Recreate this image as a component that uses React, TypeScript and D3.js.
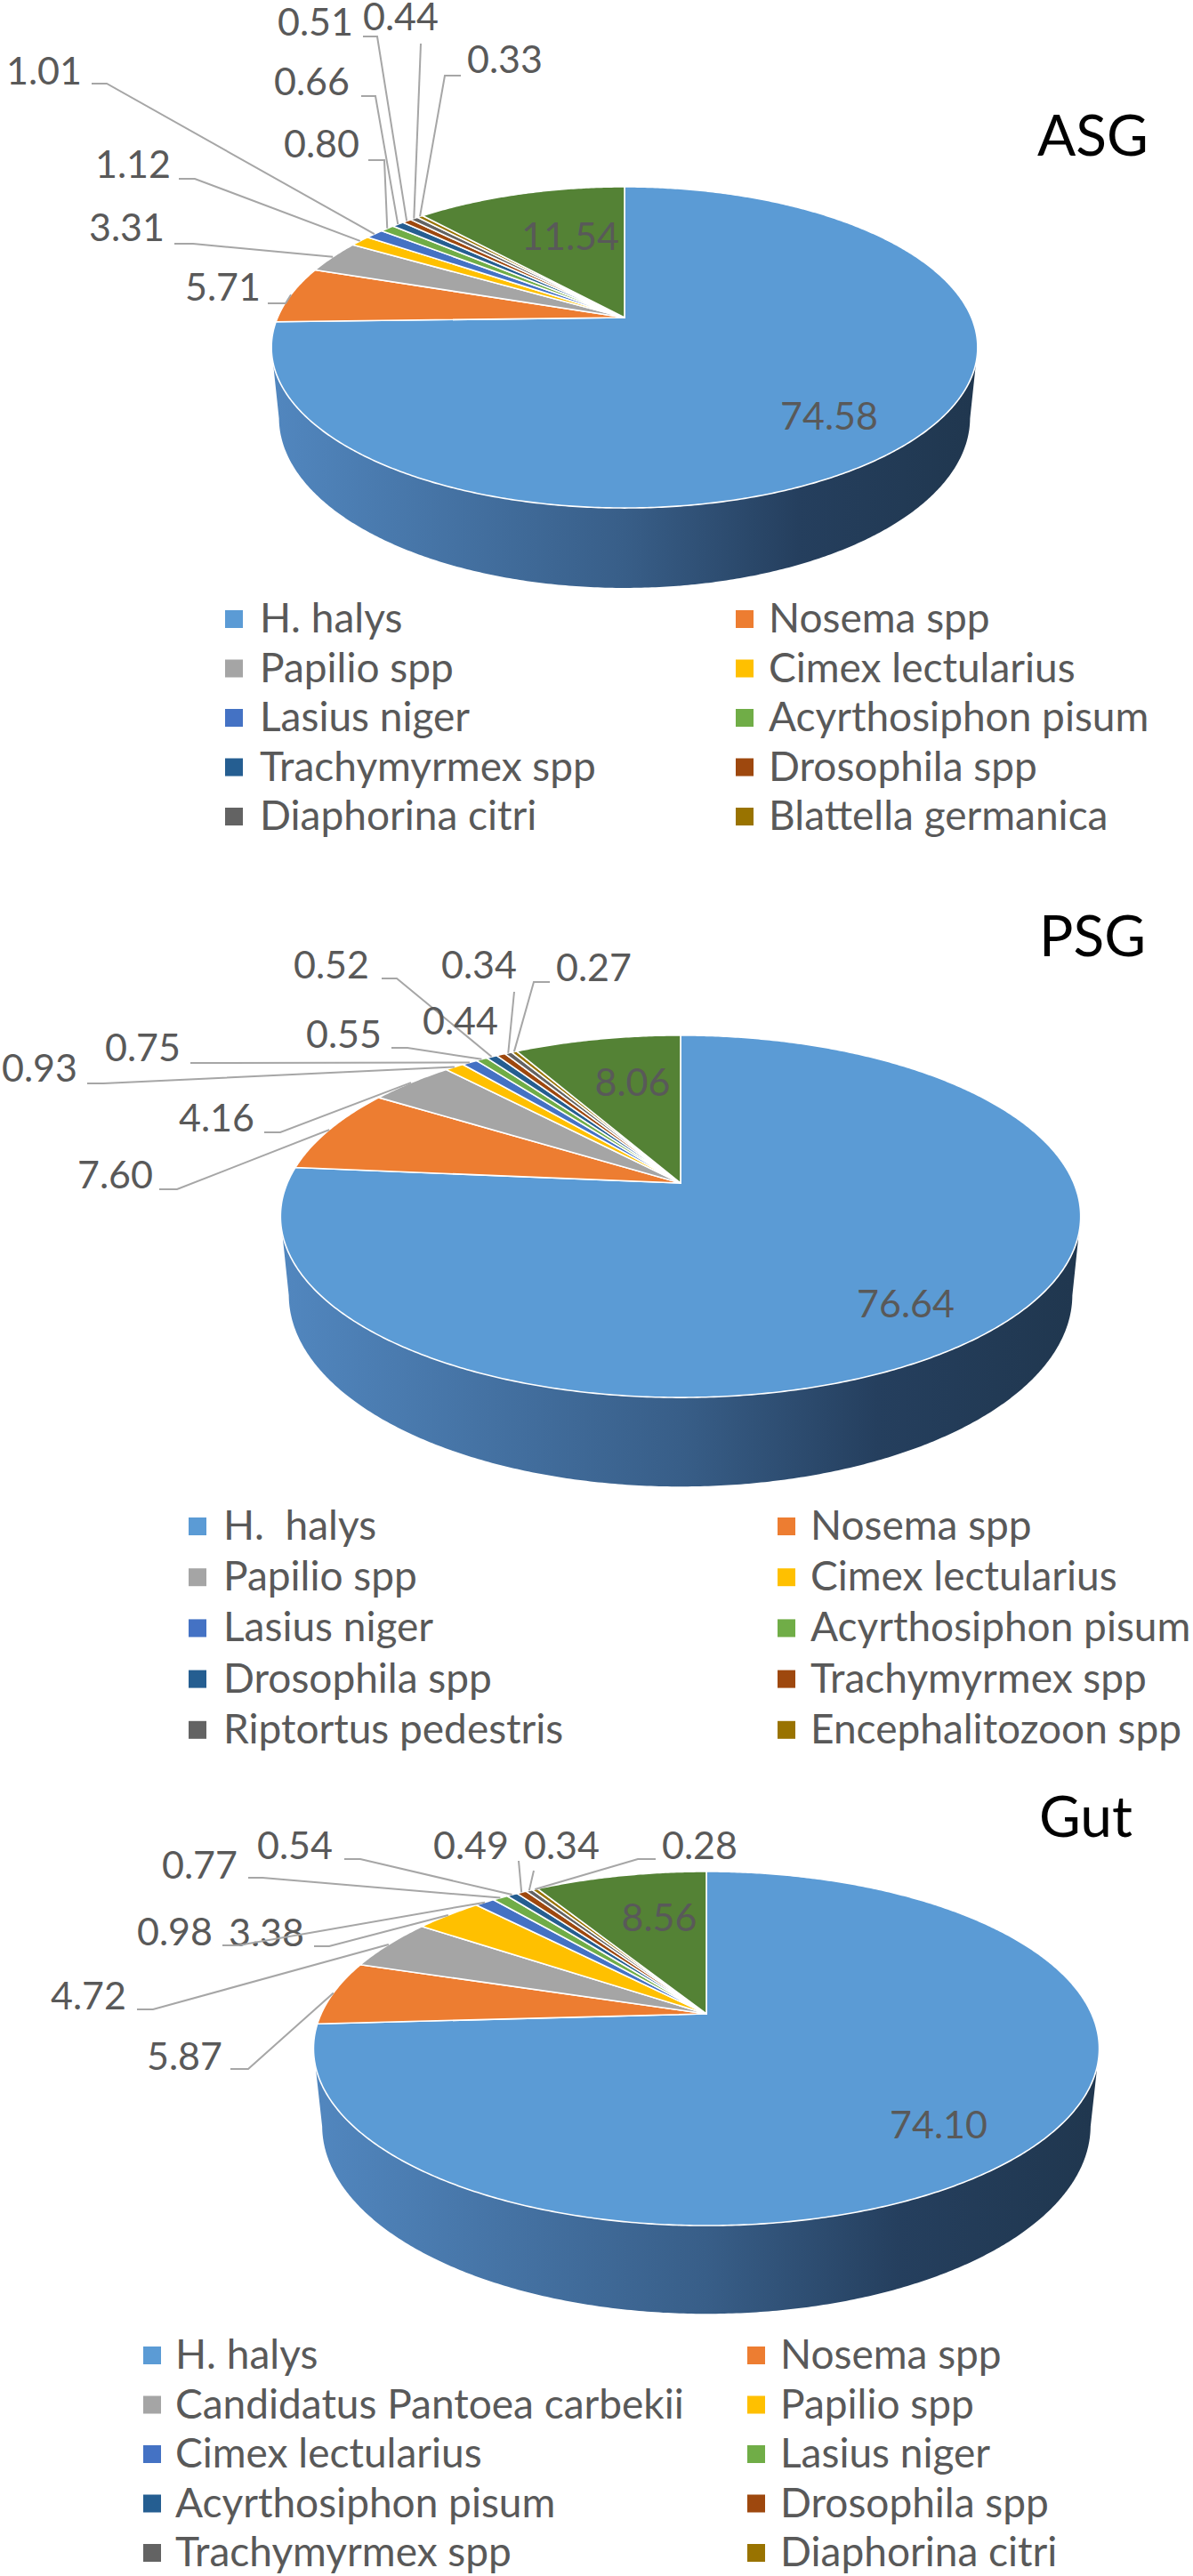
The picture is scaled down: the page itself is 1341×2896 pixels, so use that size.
import React from 'react';
import * as d3 from 'd3';

// Excel "Office" palette, in series order; the 11th slice (unlabelled rest) is dark green
const palette = ['#5B9BD5', '#ED7D31', '#A5A5A5', '#FFC000', '#4472C4', '#70AD47', '#255E91', '#9E480E', '#636363', '#997300', '#548235'];

const asgNames = ['H. halys', 'Nosema spp', 'Papilio spp', 'Cimex lectularius', 'Lasius niger', 'Acyrthosiphon pisum', 'Trachymyrmex spp', 'Drosophila spp', 'Diaphorina citri', 'Blattella germanica'];
const asgValues = [74.58, 5.71, 3.31, 1.12, 1.01, 0.80, 0.66, 0.51, 0.44, 0.33, 11.54];

const psgNames = ['H.  halys', 'Nosema spp', 'Papilio spp', 'Cimex lectularius', 'Lasius niger', 'Acyrthosiphon pisum', 'Drosophila spp', 'Trachymyrmex spp', 'Riptortus pedestris', 'Encephalitozoon spp'];
const psgValues = [76.64, 7.60, 4.16, 0.93, 0.75, 0.55, 0.52, 0.44, 0.34, 0.27, 8.06];

const gutNames = ['H. halys', 'Nosema spp', 'Candidatus Pantoea carbekii', 'Papilio spp', 'Cimex lectularius', 'Lasius niger', 'Acyrthosiphon pisum', 'Drosophila spp', 'Trachymyrmex spp', 'Diaphorina citri'];
const gutValues = [74.10, 5.87, 4.72, 3.38, 0.98, 0.77, 0.54, 0.49, 0.34, 0.28, 8.56];

// where each data label sits (Excel labels were dragged by hand)
// inner: centred text; outer: text left/baseline, leader start and elbow
type LabelPos = { x: number; y: number; inner?: boolean; sx?: number; sy?: number; ex?: number | null };

const asgLabels: LabelPos[] = [
  { x: 932, y: 483, inner: true },
  { x: 208, y: 338, sx: 301, sy: 341, ex: 321 },
  { x: 100, y: 271, sx: 196, sy: 274, ex: 217 },
  { x: 107, y: 200, sx: 201, sy: 201, ex: 219 },
  { x: 7, y: 95, sx: 103, sy: 94, ex: 120 },
  { x: 319, y: 177, sx: 414, sy: 180, ex: 432 },
  { x: 308, y: 107, sx: 406, sy: 108, ex: 422 },
  { x: 312, y: 40, sx: 408, sy: 41, ex: 424 },
  { x: 408, y: 34, sx: 473, sy: 49, ex: null },
  { x: 525, y: 82, sx: 518, sy: 85, ex: 500 },
  { x: 641, y: 281, inner: true },
];

const psgLabels: LabelPos[] = [
  { x: 1018, y: 1481, inner: true },
  { x: 87, y: 1336, sx: 179, sy: 1337, ex: 199 },
  { x: 201, y: 1272, sx: 297, sy: 1273, ex: 315 },
  { x: 2, y: 1216, sx: 98, sy: 1218, ex: 116 },
  { x: 118, y: 1193, sx: 214, sy: 1195, ex: 232 },
  { x: 344, y: 1178, sx: 440, sy: 1178, ex: 458 },
  { x: 330, y: 1100, sx: 429, sy: 1100, ex: 446 },
  { x: 475, y: 1163 },
  { x: 496, y: 1100, sx: 578, sy: 1115, ex: null },
  { x: 625, y: 1103, sx: 618, sy: 1104, ex: 600 },
  { x: 711, y: 1232, inner: true },
];

const gutLabels: LabelPos[] = [
  { x: 1055, y: 2404, inner: true },
  { x: 165, y: 2327, sx: 259, sy: 2326, ex: 279 },
  { x: 57, y: 2259, sx: 154, sy: 2259, ex: 172 },
  { x: 257, y: 2188, sx: 353, sy: 2188, ex: 370 },
  { x: 154, y: 2187, sx: 250, sy: 2187, ex: 268 },
  { x: 182, y: 2112, sx: 279, sy: 2111, ex: 295 },
  { x: 289, y: 2090, sx: 387, sy: 2090, ex: 405 },
  { x: 487, y: 2090, sx: 583, sy: 2092, ex: null },
  { x: 589, y: 2090, sx: 600, sy: 2103, ex: null },
  { x: 744, y: 2090, sx: 737, sy: 2090, ex: 717 },
  { x: 741, y: 2171, inner: true },
];

type Chart = {
  id: string;
  title: string;
  names: string[];
  values: number[];
  labels: LabelPos[];
  cx: number; cy: number; R: number; tilt: number; D: number; h: number;
  titleX: number; titleY: number;
  legY: number; legDy: number; sqL: number; txtL: number; sqR: number; txtR: number;
};

const charts: Chart[] = [
  { id: 'asg', title: 'ASG', names: asgNames, values: asgValues, labels: asgLabels,
    cx: 702, cy: 357, R: 390, tilt: 0.447, D: 1879, h: 89, titleX: 1166, titleY: 175,
    legY: 711, legDy: 55.5, sqL: 253, txtL: 292, sqR: 827, txtR: 864 },
  { id: 'psg', title: 'PSG', names: psgNames, values: psgValues, labels: psgLabels,
    cx: 765, cy: 1330, R: 442, tilt: 0.445, D: 2149, h: 99, titleX: 1168, titleY: 1075,
    legY: 1731, legDy: 57.2, sqL: 212, txtL: 251, sqR: 874, txtR: 911 },
  { id: 'gut', title: 'Gut', names: gutNames, values: gutValues, labels: gutLabels,
    cx: 794, cy: 2264, R: 433, tilt: 0.442, D: 1981, h: 97, titleX: 1168, titleY: 2065,
    legY: 2663, legDy: 55.5, sqL: 161, txtL: 197, sqR: 840, txtR: 877 },
];

const FONT = 'Lato, "Open Sans", sans-serif';
const line = d3.line();

function Pie3D({ c }: { c: Chart }) {
  const cosT = Math.sqrt(1 - c.tilt * c.tilt);
  // angle clockwise from 12 o'clock, radius, height (0 = top face)
  const proj = (a: number, r: number, z: number): [number, number] => {
    const X = r * Math.sin(a), Y = r * Math.cos(a);
    const depth = 1 + (Y * cosT - z * c.tilt) / c.D;
    return [c.cx + X / depth, c.cy - (Y * c.tilt + z * cosT) / depth];
  };
  const arcs = d3.pie<number>().sort(null).value((d) => d)(c.values);
  const step = Math.PI / 360;
  const samples = (a0: number, a1: number) => [...d3.range(a0, a1, step), a1];

  // front wall is visible where cos(a) < -b
  const b = (c.R * cosT) / c.D;
  const vis0 = Math.acos(-b), vis1 = 2 * Math.PI - Math.acos(-b);

  const walls = arcs.map((s, i) => {
    const a0 = Math.max(s.startAngle, vis0), a1 = Math.min(s.endAngle, vis1);
    if (a1 <= a0) return null;
    const top = samples(a0, a1).map((a) => proj(a, c.R, 0));
    const bot = samples(a0, a1).map((a) => proj(a, c.R, -c.h)).reverse();
    return <path key={i} d={line([...top, ...bot])! + 'Z'} fill={i === 0 ? `url(#wall-${c.id})` : d3.color(palette[i])!.darker(1.2).toString()} />;
  });

  const tops = arcs.map((s, i) => {
    const pts: [number, number][] = [[c.cx, c.cy], ...samples(s.startAngle, s.endAngle).map((a) => proj(a, c.R, 0))];
    return <path key={i} d={line(pts)! + 'Z'} fill={palette[i]} stroke="#fff" strokeWidth={1.6} strokeLinejoin="round" />;
  });

  const labels = arcs.map((s, i) => {
    const L = c.labels[i];
    const txt = d3.format('.2f')(c.values[i]);
    if (L.inner) {
      return <text key={i} x={L.x} y={L.y} textAnchor="middle" fontSize={43} fill="#595959">{txt}</text>;
    }
    let leader = null;
    if (L.sx !== undefined && L.sy !== undefined) {
      const end = proj((s.startAngle + s.endAngle) / 2, c.R, 0);
      const pts: [number, number][] = [[L.sx, L.sy]];
      if (L.ex !== null && L.ex !== undefined) pts.push([L.ex, L.sy]);
      pts.push(end);
      leader = <path d={line(pts)!} fill="none" stroke="#A6A6A6" strokeWidth={2} />;
    }
    return (
      <g key={i}>
        {leader}
        <text x={L.x} y={L.y} fontSize={43} fill="#595959">{txt}</text>
      </g>
    );
  });

  const legend = c.names.map((n, i) => {
    const col = i % 2, row = Math.floor(i / 2);
    const y = c.legY + row * c.legDy;
    const sq = col === 0 ? c.sqL : c.sqR;
    const tx = col === 0 ? c.txtL : c.txtR;
    return (
      <g key={n}>
        <rect x={sq} y={y - 25} width={20} height={20} fill={palette[i]} />
        <text x={tx} y={y} fontSize={46} fill="#595959" style={{ whiteSpace: 'pre' }}>{n}</text>
      </g>
    );
  });

  return (
    <g fontFamily={FONT}>
      <defs>
        <linearGradient id={`wall-${c.id}`} gradientUnits="userSpaceOnUse" x1={c.cx - c.R} x2={c.cx + c.R} y1={0} y2={0}>
          <stop offset="0" stopColor="#5186BE" />
          <stop offset="0.5" stopColor="#385E88" />
          <stop offset="0.75" stopColor="#253F5E" />
          <stop offset="1" stopColor="#20374F" />
        </linearGradient>
      </defs>
      {walls}
      {tops}
      {labels}
      {legend}
      <text x={c.titleX} y={c.titleY} fontSize={64} fill="#000">{c.title}</text>
    </g>
  );
}

export default function App() {
  return (
    <svg width={1341} height={2896} style={{ position: 'absolute', left: 0, top: 0, background: '#fff' }}>
      <rect width={1341} height={2896} fill="#fff" />
      {charts.map((c) => <Pie3D key={c.id} c={c} />)}
    </svg>
  );
}
